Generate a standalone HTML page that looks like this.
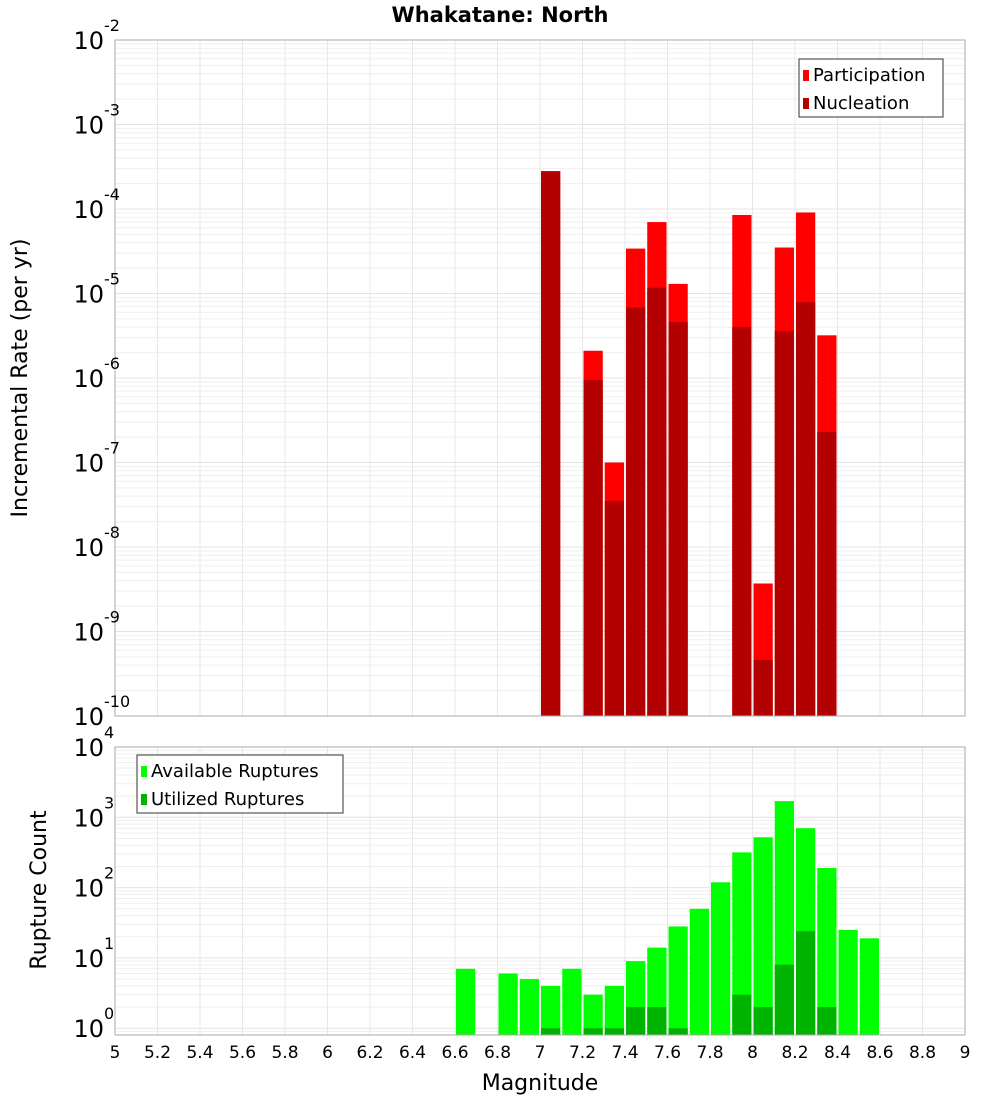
<!DOCTYPE html>
<html><head><meta charset="utf-8"><style>
body{margin:0;background:#fff;font-family:"Liberation Sans","DejaVu Sans",sans-serif}
svg text{font-family:"DejaVu Sans","Liberation Sans",sans-serif}
</style></head><body>
<svg id="c" width="1000" height="1100" xmlns="http://www.w3.org/2000/svg">
<text x="500" y="22" text-anchor="middle" font-size="21" font-weight="bold">Whakatane: North</text>
<text transform="translate(27,378) rotate(-90)" text-anchor="middle" font-size="22">Incremental Rate (per yr)</text>
<text transform="translate(46,890) rotate(-90)" text-anchor="middle" font-size="22">Rupture Count</text>
<text x="540" y="1090" text-anchor="middle" font-size="22">Magnitude</text>
<g id="g"></g>
</svg>
<script>
const rateMags=[7.0,7.2,7.3,7.4,7.5,7.6,7.9,8.0,8.1,8.2,8.3];
const participation=[2.8e-4,2.1e-6,1.0e-7,3.4e-5,7.0e-5,1.3e-5,8.5e-5,3.7e-9,3.5e-5,9.1e-5,3.2e-6];
const nucleation=[2.8e-4,9.5e-7,3.5e-8,6.8e-6,1.17e-5,4.6e-6,4.0e-6,4.6e-10,3.6e-6,7.9e-6,2.3e-7];
const countMags=[6.6,6.8,6.9,7.0,7.1,7.2,7.3,7.4,7.5,7.6,7.7,7.8,7.9,8.0,8.1,8.2,8.3,8.4,8.5];
const available=[7,6,5,4,7,3,4,9,14,28,50,119,317,520,1700,700,190,25,19];
const utilized=[0,0,0,1,0,1,1,2,2,1,0,0,3,2,8,24,2,0,0];
const xTicks=[5,5.2,5.4,5.6,5.8,6,6.2,6.4,6.6,6.8,7,7.2,7.4,7.6,7.8,8,8.2,8.4,8.6,8.8,9];
const topExps=[-2,-3,-4,-5,-6,-7,-8,-9,-10];
const botExps=[0,1,2,3,4];

const NS="http://www.w3.org/2000/svg",G=document.getElementById('g');
function el(t,a){const e=document.createElementNS(NS,t);for(const k in a)e.setAttribute(k,a[k]);G.appendChild(e);return e;}
const X0=115,X1=965;
const xs=m=>X0+(m-5)*(X1-X0)/4;
const T0=40,T1=716;
const yT=v=>T0+(-2-Math.log10(v))*(T1-T0)/8;
const B0=747,B1=1035,BD=70.3;
const yB=v=>B0+(4-Math.log10(v))*BD;

// grids
for(let e=-10;e<-2;e++)for(let k=1;k<10;k++){const y=yT(k*Math.pow(10,e));
const l=el('line',{x1:X0,x2:X1,y1:y,y2:y,stroke:k==1?'#e4e4e4':'#efefef','stroke-width':1});
}
for(let e=-1;e<4;e++)for(let k=1;k<10;k++){const y=yB(k*Math.pow(10,e));if(y>B1||y<B0)continue;
const l=el('line',{x1:X0,x2:X1,y1:y,y2:y,stroke:k==1?'#e4e4e4':'#efefef','stroke-width':1});
}
xTicks.forEach(m=>{const x=xs(m);
[[T0,T1],[B0,B1]].forEach(r=>{const l=el('line',{x1:x,x2:x,y1:r[0],y2:r[1],stroke:'#e8e8e8'});
});
const t=el('text',{x:x,y:1058,'text-anchor':'middle','font-size':17});t.textContent=String(m);
});

const w=(X1-X0)/40;
rateMags.forEach((m,i)=>{const x=xs(m)+1;
const p=el('rect',{x:x,y:yT(participation[i]),width:w-2,height:T1-yT(participation[i]),fill:'#ff0000'});

const n=el('rect',{x:x,y:yT(nucleation[i]),width:w-2,height:T1-yT(nucleation[i]),fill:'#b30000'});
});
countMags.forEach((m,i)=>{const x=xs(m)+1;
const a=el('rect',{x:x,y:yB(available[i]),width:w-2,height:B1-yB(available[i]),fill:'#00ff00'});

if(utilized[i]>0){const u=el('rect',{x:x,y:yB(utilized[i]),width:w-2,height:B1-yB(utilized[i]),fill:'#00b300'});
}});

// frames
[[T0,T1],[B0,B1]].forEach(r=>{const f=el('rect',{x:X0,y:r[0],width:X1-X0,height:r[1]-r[0],fill:'none',stroke:'#aaa'});
});

// y tick labels
function ylab(y,e,nm){const t=el('text',{x:104,y:y+9,'text-anchor':'end','font-size':24});
t.textContent='10';
const s=el('text',{x:104,y:y-9,'font-size':16});s.textContent=String(e);
}
topExps.forEach(e=>ylab(yT(Math.pow(10,e)),e,'y-tick-label-top'));
botExps.forEach(e=>ylab(yB(Math.pow(10,e)),e,'y-tick-label-bottom'));

// legends
function legend(x,y,w,items,nm){const b=el('rect',{x:x,y:y,width:w,height:58,fill:'#fff',stroke:'#333'});

items.forEach((it,i)=>{const r=el('rect',{x:x+4,y:y+11+i*28,width:6,height:11,fill:it[1]});

const t=el('text',{x:x+14,y:y+22+i*28,'font-size':18});t.textContent=it[0];
});}
legend(799,59,144,[['Participation','#ff0000'],['Nucleation','#b30000']],'legend-top');
legend(137,755,206,[['Available Ruptures','#00ff00'],['Utilized Ruptures','#00b300']],'legend-bottom');
</script>
</body></html>
